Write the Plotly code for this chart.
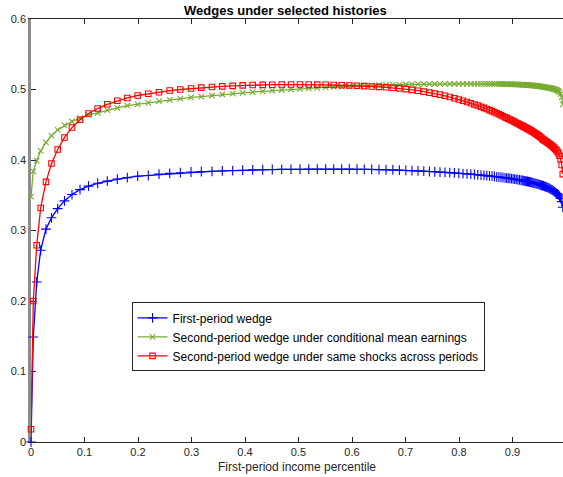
import plotly.graph_objects as go

# First-period income percentile grid
x_pct = [
    0.0, 0.0043, 0.0107, 0.0181, 0.0280, 0.0383, 0.0499, 0.0626, 0.0766, 0.0916,
    0.1075, 0.1247, 0.1426, 0.1613, 0.1800, 0.1994, 0.2193, 0.2393, 0.2593, 0.2791,
    0.2991, 0.3183, 0.3383, 0.3576, 0.3770, 0.3957, 0.4144, 0.4331, 0.4510, 0.4686,
    0.4860, 0.5028, 0.5191, 0.5351, 0.5508, 0.5658, 0.5807, 0.5950, 0.6093, 0.6230,
    0.6368, 0.6505, 0.6636, 0.6763, 0.6886, 0.7006, 0.7121, 0.7234, 0.7342, 0.7447,
    0.7548, 0.7645, 0.7738, 0.7828, 0.7914, 0.7996, 0.8075, 0.8150, 0.8221, 0.8288,
    0.8351, 0.8411, 0.8467, 0.8520, 0.8570, 0.8617, 0.8662, 0.8705, 0.8746, 0.8785,
    0.8822, 0.8860,
    0.889, 0.892, 0.895, 0.898, 0.901, 0.904, 0.907, 0.910, 0.913, 0.916,
    0.918, 0.920, 0.922, 0.924, 0.926, 0.928, 0.930, 0.932, 0.934, 0.936,
    0.938, 0.940, 0.942, 0.944, 0.946, 0.948, 0.950, 0.952, 0.954, 0.956,
    0.958, 0.960, 0.962, 0.964, 0.966, 0.968, 0.970, 0.972, 0.974, 0.976,
    0.978, 0.980, 0.982, 0.984, 0.986, 0.988, 0.990, 0.992, 0.994,
]

wedge_first = [
    0.000, 0.149, 0.227, 0.272, 0.302, 0.318, 0.331, 0.342, 0.351, 0.358,
    0.363, 0.367, 0.370, 0.373, 0.375, 0.377, 0.378, 0.380, 0.381, 0.382,
    0.383, 0.3835, 0.384, 0.3845, 0.385, 0.3855, 0.386, 0.3862, 0.3865, 0.3867,
    0.3868, 0.3869, 0.387, 0.387, 0.387, 0.387, 0.387, 0.387, 0.3869, 0.3868,
    0.3866, 0.3864, 0.3862, 0.3859, 0.3856, 0.3852, 0.3849, 0.3845, 0.3841, 0.3837,
    0.3833, 0.3829, 0.3825, 0.3821, 0.3817, 0.3812, 0.3808, 0.3803, 0.3799, 0.3794,
    0.379, 0.3786, 0.3782, 0.3778, 0.3774, 0.377, 0.3766, 0.3762, 0.3758, 0.3755,
    0.3751, 0.3747,
    0.3744, 0.3741, 0.3738, 0.3735, 0.3731, 0.3728, 0.3724, 0.3721, 0.3717, 0.3713,
    0.371, 0.3707, 0.3704, 0.3701, 0.3698, 0.3695, 0.3692, 0.3688, 0.3685, 0.3681,
    0.3677, 0.3673, 0.3669, 0.3665, 0.3661, 0.3657, 0.3652, 0.3647, 0.3642, 0.3637,
    0.3632, 0.3626, 0.362, 0.3614, 0.3607, 0.36, 0.3592, 0.3584, 0.3575, 0.3565,
    0.3554, 0.3542, 0.3528, 0.352, 0.3505, 0.3485, 0.3455, 0.341, 0.333,
]

wedge_cond_mean = [
    0.348, 0.384, 0.399, 0.413, 0.425, 0.4347, 0.4428, 0.449, 0.4546, 0.4594,
    0.464, 0.467, 0.4707, 0.474, 0.477, 0.479, 0.481, 0.4835, 0.4853, 0.487,
    0.4888, 0.490, 0.4915, 0.4929, 0.4941, 0.4953, 0.4964, 0.4974, 0.4984, 0.4993,
    0.5002, 0.501, 0.5017, 0.5024, 0.503, 0.5036, 0.5041, 0.5046, 0.505, 0.5054,
    0.5058, 0.5061, 0.5064, 0.5067, 0.5069, 0.5071, 0.5073, 0.5075, 0.5076, 0.5077,
    0.5078, 0.5079, 0.508, 0.508, 0.5081, 0.5081, 0.5081, 0.5081, 0.5081, 0.5081,
    0.5081, 0.5081, 0.5081, 0.508, 0.508, 0.508, 0.5079, 0.5079, 0.5079, 0.5078,
    0.5078, 0.5077,
    0.5077, 0.5076, 0.5075, 0.5075, 0.5074, 0.5073, 0.5072, 0.5071, 0.507, 0.5069,
    0.5068, 0.5067, 0.5066, 0.5065, 0.5064, 0.5063, 0.5062, 0.5061, 0.506, 0.5059,
    0.5058, 0.5056, 0.5054, 0.5052, 0.505, 0.5048, 0.5046, 0.5043, 0.504, 0.5038,
    0.5036, 0.5034, 0.5032, 0.503, 0.5027, 0.5024, 0.5021, 0.5018, 0.5014, 0.501,
    0.5005, 0.5, 0.4994, 0.4986, 0.4975, 0.496, 0.4935, 0.489, 0.479,
]

wedge_same_shock = [
    0.018, 0.200, 0.279, 0.332, 0.369, 0.395, 0.415, 0.432, 0.446, 0.457,
    0.466, 0.473, 0.479, 0.484, 0.488, 0.4915, 0.494, 0.496, 0.4985, 0.500,
    0.5014, 0.5026, 0.5036, 0.5045, 0.5052, 0.5058, 0.5063, 0.5066, 0.5068, 0.507,
    0.5071, 0.5071, 0.507, 0.5069, 0.5067, 0.5064, 0.5061, 0.5057, 0.5053, 0.5048,
    0.5043, 0.5037, 0.5031, 0.5024, 0.5016, 0.5006, 0.4995, 0.4983, 0.497, 0.4956,
    0.4942, 0.4927, 0.4911, 0.4894, 0.4876, 0.4858, 0.484, 0.4822, 0.4805, 0.4788,
    0.4772, 0.4756, 0.474, 0.4724, 0.4708, 0.4693, 0.4678, 0.4663, 0.4649, 0.4635,
    0.4621, 0.4607,
    0.4597, 0.4586, 0.4575, 0.4564, 0.4553, 0.4541, 0.4529, 0.4517, 0.4505, 0.4493,
    0.4485, 0.4477, 0.4469, 0.4461, 0.4453, 0.4445, 0.4436, 0.4427, 0.4418, 0.4409,
    0.44, 0.439, 0.438, 0.437, 0.436, 0.4349, 0.4338, 0.4327, 0.4316, 0.4296,
    0.4286, 0.4276, 0.4266, 0.4256, 0.4245, 0.4234, 0.4223, 0.4211, 0.4199, 0.4186,
    0.4172, 0.4157, 0.414, 0.412, 0.4095, 0.406, 0.401, 0.393, 0.380,
]

for series in (wedge_first, wedge_cond_mean, wedge_same_shock):
    assert len(series) == len(x_pct)

series_names = [
    "First-period wedge",
    "Second-period wedge under conditional mean earnings",
    "Second-period wedge under same shocks across periods",
]
series_colors = ["#0000FF", "#77AC30", "#FF0000"]
series_symbols = ["cross-thin", "x-thin", "square-open"]
series_sizes = [7, 5.5, 5.5]

x_ticks = [0, 0.1, 0.2, 0.3, 0.4, 0.5, 0.6, 0.7, 0.8, 0.9]
x_tick_text = ["0", "0.1", "0.2", "0.3", "0.4", "0.5", "0.6", "0.7", "0.8", "0.9"]
y_ticks = [0, 0.1, 0.2, 0.3, 0.4, 0.5, 0.6]
y_tick_text = ["0", "0.1", "0.2", "0.3", "0.4", "0.5", "0.6"]

FONT = "Liberation Sans, Arial, Helvetica, sans-serif"
INK = "#262626"

fig = go.Figure()
for ys, name, color, sym, sz in zip(
    (wedge_first, wedge_cond_mean, wedge_same_shock),
    series_names, series_colors, series_symbols, series_sizes,
):
    fig.add_trace(go.Scatter(
        x=x_pct, y=ys, name=name, mode="lines+markers",
        line=dict(color=color, width=1.3),
        marker=dict(symbol=sym, size=sz, color=color,
                    line=dict(color=color, width=1.1)),
        cliponaxis=False,
    ))

X_MAX = 0.9944
fig.update_layout(
    width=563, height=477,
    margin=dict(l=31, r=0, t=19, b=35),
    paper_bgcolor="white", plot_bgcolor="white",
    font=dict(family=FONT, size=11, color=INK),
    showlegend=True,
    legend=dict(
        x=0.189, y=0.33, xanchor="left", yanchor="top",
        bgcolor="white", bordercolor=INK, borderwidth=1,
        font=dict(family=FONT, size=12, color="black"),
        tracegroupgap=0, itemwidth=30,
    ),
    xaxis=dict(
        range=[0, X_MAX], tickvals=x_ticks, ticktext=x_tick_text,
        ticks="inside", ticklen=5, tickwidth=1, tickcolor=INK,
        showline=True, linecolor=INK, linewidth=1, mirror="ticks",
        showgrid=False, zeroline=False,
        title=dict(text="First-period income percentile",
                   font=dict(family=FONT, size=12, color=INK), standoff=5),
    ),
    yaxis=dict(
        range=[0, 0.6], tickvals=y_ticks, ticktext=y_tick_text,
        ticks="inside", ticklen=5, tickwidth=1, tickcolor=INK,
        showline=True, linecolor="#8c8c8c", linewidth=2.5,
        showgrid=False, zeroline=False, layer="below traces",
    ),
    annotations=[dict(
        text="<b>Wedges under selected histories</b>",
        xref="paper", yref="paper", x=0.479, y=1.0, yshift=9,
        xanchor="center", yanchor="middle", showarrow=False,
        font=dict(family=FONT, size=13, color="black"),
    )],
)

fig.write_html("out.html")
